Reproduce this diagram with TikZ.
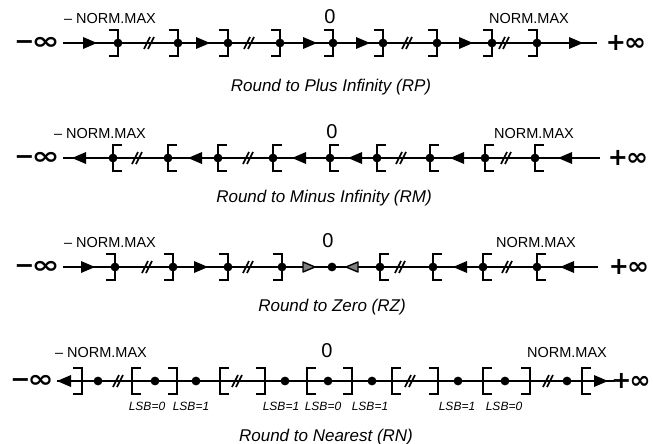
\documentclass[tikz,border=0pt]{standalone}
\usepackage{fontspec}
\setmainfont{Liberation Sans}
\newfontfamily\djv{DejaVu Sans}
\newcommand\wideinf[1]{\scalebox{#1}[1]{∞}}
\begin{document}
\begin{tikzpicture}[x=1pt,y=-1pt,
  numline/.style={line width=1.5pt},
  brk/.style={line width=1.6pt},
  lab/.style={font=\fontsize{14.5}{16}\selectfont, inner sep=0, anchor=base},
  zlab/.style={font=\fontsize{20}{22}\selectfont, inner sep=0, anchor=base},
  capt/.style={font=\itshape\fontsize{17}{19}\selectfont, inner sep=0, anchor=base},
  lsb/.style={font=\itshape\fontsize{12}{13}\selectfont, inner sep=0, anchor=base},
  infl/.style={font=\djv\bfseries\fontsize{24}{26}\selectfont, inner sep=0},
  rbk/.pic={\draw[brk] (-9,-13) -- (0,-13) -- (0,13) -- (-9,13);},
  lbk/.pic={\draw[brk] (9,-13) -- (0,-13) -- (0,13) -- (9,13);},
  dt/.pic={\fill (0,0) circle (4.4);},
  ra/.pic={\fill (0,0) -- (-14,-6) -- (-14,6) -- cycle;},
  la/.pic={\fill (0,0) -- (14,-6) -- (14,6) -- cycle;},
  rag/.pic={\filldraw[fill=gray,line width=1.4pt,line join=round] (0,0) -- (-12,-5) -- (-12,5) -- cycle;},
  lag/.pic={\filldraw[fill=gray,line width=1.4pt,line join=round] (0,0) -- (12,-5) -- (12,5) -- cycle;},
  sl/.pic={\draw[line width=1.7pt] (-5,6) -- (1,-6) (-1,6) -- (5,-6);},
]
\useasboundingbox (0,0) rectangle (653,444);

% ---------- Row 1: RP ----------
\node[infl] (m1) at (37,43) {−\kern-3pt\wideinf{1.4}};
\node[infl] (p1) at (626,43) {+\kern-2pt\wideinf{1.1}};
\coordinate (a1) at (63,43); \coordinate (b1) at (597,43);
\draw[numline] (a1) -- (b1);
\foreach \x in {97,210,317,370,473,583} \pic at (\x,43) {ra};
\foreach \x in {118,178,228,280,333,383,437,492,537} {\pic at (\x,43) {rbk}; \pic at (\x,43) {dt};}
\foreach \x in {149,249,407,504} \pic at (\x,43) {sl};
\node[lab] (n1) at (110,24) {– NORM.MAX};
\node[zlab] (z1) at (330,24) {0};
\node[lab] (x1) at (529,24) {NORM.MAX};
\node[capt] (c1) at (331,91) {Round to Plus Infinity (RP)};

% ---------- Row 2: RM ----------
\node[infl] (m2) at (37,158) {−\kern-3pt\wideinf{1.4}};
\node[infl] (p2) at (628,158) {+\kern-2pt\wideinf{1.1}};
\coordinate (a2) at (63,158); \coordinate (b2) at (600,158);
\draw[numline] (a2) -- (b2);
\foreach \x in {72,188,292,348,450,558} \pic at (\x,158) {la};
\foreach \x in {113,168,218,273,330,377,430,485,535} {\pic at (\x,158) {lbk}; \pic at (\x,158) {dt};}
\foreach \x in {137,248,401,506} \pic at (\x,158) {sl};
\node[lab] (n2) at (100,138) {– NORM.MAX};
\node[zlab] (z2) at (332,138) {0};
\node[lab] (x2) at (534,138) {NORM.MAX};
\node[capt] (c2) at (324,202) {Round to Minus Infinity (RM)};

% ---------- Row 3: RZ ----------
\node[infl] (m3) at (37,267) {−\kern-3pt\wideinf{1.4}};
\node[infl] (p3) at (629,267) {+\kern-2pt\wideinf{1.1}};
\coordinate (a3) at (63,267); \coordinate (b3) at (598,267);
\draw[numline] (a3) -- (b3);
\foreach \x in {95,208} \pic at (\x,267) {ra};
\pic at (315,267) {rag};
\foreach \x in {115,173,228,282} {\pic at (\x,267) {rbk}; \pic at (\x,267) {dt};}
\pic at (332,267) {dt};
\pic at (346,267) {lag};
\foreach \x in {453,560} \pic at (\x,267) {la};
\foreach \x in {380,433,483,537} {\pic at (\x,267) {lbk}; \pic at (\x,267) {dt};}
\foreach \x in {147,248,400,507} \pic at (\x,267) {sl};
\node[lab] (n3) at (110,247) {– NORM.MAX};
\node[zlab] (z3) at (328,247) {0};
\node[lab] (x3) at (536,247) {NORM.MAX};
\node[capt] (c3) at (332,311) {Round to Zero (RZ)};

% ---------- Row 4: RN ----------
\node[infl] (m4) at (32,381) {−\kern-3pt\wideinf{1.3}};
\node[infl] (p4) at (631,381) {+\kern-2pt\wideinf{1.05}};
\coordinate (a4) at (57,381); \coordinate (b4) at (614,381);
\draw[numline] (a4) -- (b4);
\pic at (57,381) {la};
\pic at (608,381) {ra};
\foreach \x in {82,177,265,352,438,530} \pic at (\x,381) {rbk};
\foreach \x in {132,220,307,392,483,582} \pic at (\x,381) {lbk};
\foreach \x in {98,155,196,285,328,372,458,505,567} \pic at (\x,381) {dt};
\foreach \x in {118,237,410,548} \pic at (\x,381) {sl};
\node[lsb] (l1) at (147,410) {LSB=0};
\node[lsb] (l2) at (191,410) {LSB=1};
\node[lsb] (l3) at (281,410) {LSB=1};
\node[lsb] (l4) at (323,410) {LSB=0};
\node[lsb] (l5) at (370,410) {LSB=1};
\node[lsb] (l6) at (457,410) {LSB=1};
\node[lsb] (l7) at (504,410) {LSB=0};
\node[lab] (n4) at (101,357) {– NORM.MAX};
\node[zlab] (z4) at (327,357) {0};
\node[lab] (x4) at (567,357) {NORM.MAX};
\node[capt] (c4) at (326,441) {Round to Nearest (RN)};
\end{tikzpicture}
\end{document}
